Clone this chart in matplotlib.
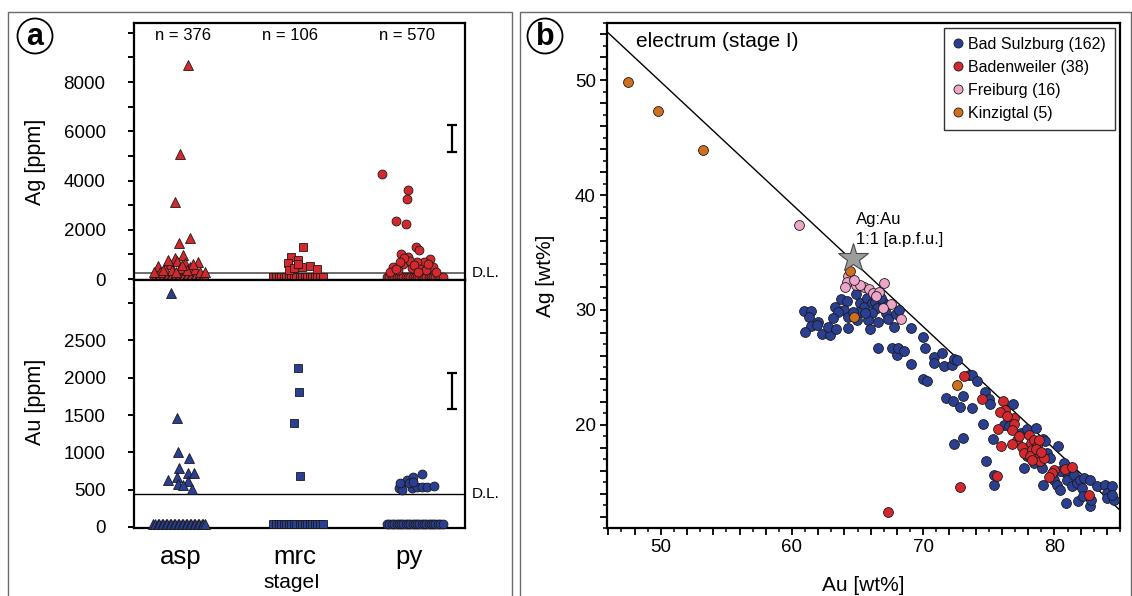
import matplotlib
matplotlib.use("Agg")
import matplotlib.pyplot as plt
from matplotlib.patches import Circle, Rectangle
from matplotlib.lines import Line2D
from matplotlib.ticker import MultipleLocator, FixedLocator, FuncFormatter

plt.rcParams['font.family'] = ['Liberation Sans', 'DejaVu Sans']

RED = '#d3282e'
BLUE = '#2b3f92'
PINK = '#eda5c8'
ORANGE = '#d0701c'
EDGE = '#1a1a1a'

# ---------------- panel a: trace elements in sulfides (stage I) ----------------
minerals = ['asp', 'mrc', 'py']
counts = [376, 106, 570]
ag_dl = 230          # detection limit Ag [ppm]
au_dl = 440          # detection limit Au [ppm]
ag_bdl_level = 80    # plotting level of analyses below detection limit
au_bdl_level = 40

# Ag [ppm] above detection limit: horizontal jitter offset and value
ag_asp_dx = [0.059, -0.009, -0.053, 0.079, -0.018, 0.020, -0.200, 0.152, -0.053,
             -0.096, -0.035, 0.035, 0.079, -0.140, -0.079, -0.009, 0.123, -0.184,
             0.167, 0.053, -0.114, 0.009, 0.105, -0.044, -0.237, 0.210, -0.158]
ag_asp_val = [8700, 5080, 3140, 1650, 1450, 980, 520, 680, 840,
              600, 720, 650, 480, 400, 350, 450, 420, 280,
              300, 380, 760, 560, 600, 300, 300, 280, 350]
ag_mrc_dx = [0.073, -0.038, 0.024, -0.059, 0.059, 0.132, 0.196, -0.050, -0.009, 0.026]
ag_mrc_val = [1310, 880, 760, 640, 500, 530, 395, 380, 450, 600]
ag_py_dx = [-0.234, -0.006, -0.015, -0.114, -0.024, 0.059, 0.088, -0.070, -0.006,
            -0.138, 0.184, 0.134, 0.213, 0.068, -0.053, 0.026, 0.096, -0.096,
            0.149, 0.237, -0.167, 0.009, -0.044, 0.044, -0.079, 0.167, 0.079, -0.114]
ag_py_val = [4270, 3620, 3240, 2370, 2220, 1290, 1180, 1015, 905,
             500, 800, 705, 500, 705, 600, 450, 400, 350,
             350, 300, 300, 750, 850, 550, 700, 600, 300, 420]

# Au [ppm] above detection limit
au_asp_dx = [-0.088, -0.038, -0.024, 0.073, -0.015, 0.059, 0.117, -0.111, -0.038,
             0.064, -0.024, 0.015, 0.099]
au_asp_val = [3140, 1456, 1008, 928, 794, 727, 719, 629, 665, 610, 578, 565, 509]
au_mrc_dx = [0.024, 0.035, -0.011, 0.044]
au_mrc_val = [2134, 1812, 1397, 683]
au_py_dx = [-0.064, -0.085, -0.020, 0.038, 0.111, -0.064, 0.024, 0.068, 0.111,
            0.155, 0.219, 0.003, 0.038, -0.079]
au_py_val = [576, 518, 629, 674, 710, 496, 518, 540, 532, 540, 553, 585, 607, 593]

# offsets of analyses below detection limit (drawn as a row)
bdl_asp_dx = [-0.245, -0.225, -0.205, -0.19, -0.17, -0.155, -0.135, -0.12, -0.10,
              -0.085, -0.065, -0.05, -0.03, -0.015, 0.005, 0.02, 0.04, 0.055,
              0.075, 0.09, 0.11, 0.125, 0.145, 0.16, 0.18, 0.195, 0.21]
bdl_mrc_dx = [-0.19, -0.17, -0.14, -0.12, -0.10, -0.075, -0.055, -0.035, -0.01,
              0.01, 0.04, 0.06, 0.085, 0.105, 0.13, 0.15, 0.175, 0.195, 0.22, 0.245]
bdl_py_dx = [-0.195, -0.175, -0.15, -0.13, -0.11, -0.09, -0.07, -0.05, -0.03, -0.01,
             0.01, 0.03, 0.05, 0.07, 0.09, 0.11, 0.13, 0.15, 0.17, 0.19, 0.21,
             0.23, 0.25, 0.27, 0.295]

# analytical uncertainty bars
ag_err_center, ag_err = 5710, 550
au_err_center, au_err = 1821, 245

# ---------------- panel b: electrum compositions ----------------
bs_au = [60.92, 61.45, 61.32, 62.01, 61.45, 61.02, 61.88, 62.27, 62.90, 62.77, 63.36,
         63.28, 63.74, 64.17, 63.99, 64.30, 64.25, 64.99, 64.89, 65.19, 65.45, 65.70,
         66.08, 66.29, 66.46, 66.08, 65.78, 65.95, 66.59, 67.18, 67.35, 67.74, 67.91,
         68.12, 65.06, 65.57, 66.59, 67.61, 67.99, 63.54, 63.16, 64.68, 66.97, 66.77,
         68.07, 68.55, 69.06, 70.15, 70.84, 70.84, 71.42, 71.55, 72.19, 72.31, 72.57,
         69.97, 70.28, 73.46, 73.71, 74.10, 74.73, 74.99, 75.11, 71.75, 72.26, 72.77,
         73.03, 73.71, 74.55, 76.13, 76.51, 76.82, 72.31, 73.03, 75.32, 74.81, 75.42,
         75.37, 77.66, 77.48, 77.91, 78.60, 79.13, 79.31, 80.28, 79.44, 79.69, 79.13,
         79.95, 80.20, 80.46, 80.71, 80.84, 80.97, 81.47, 81.35, 81.73, 81.98, 82.11,
         82.24, 82.75, 83.21, 80.92, 81.78, 82.19, 82.75, 82.82, 83.89, 84.02, 84.40,
         84.02, 84.53, 84.40, 77.91, 78.42, 79.06, 79.95, 80.46, 69.05, 69.95]
bs_ag = [29.94, 29.91, 29.36, 28.99, 28.64, 28.12, 28.72, 27.94, 27.80, 28.49, 28.32,
         30.23, 30.96, 30.81, 30.00, 29.42, 28.41, 29.13, 31.36, 30.64, 30.23, 31.01,
         30.64, 30.72, 30.15, 29.71, 29.13, 28.35, 28.99, 29.71, 29.19, 28.55, 29.65,
         30.00, 29.86, 29.71, 26.67, 26.67, 26.09, 29.86, 29.28, 29.86, 30.72, 31.01,
         26.67, 26.38, 25.27, 26.72, 25.88, 25.36, 26.23, 25.13, 25.22, 25.74, 25.65,
         24.00, 23.85, 24.35, 24.35, 23.85, 22.81, 22.23, 21.82, 22.32, 22.09, 21.51,
         22.46, 21.45, 20.06, 20.00, 19.85, 21.82, 18.32, 18.81, 18.75, 16.81, 15.65,
         14.78, 16.23, 19.27, 19.62, 19.71, 18.78, 18.55, 18.12, 17.54, 17.10, 14.78,
         15.22, 14.72, 14.35, 16.67, 15.85, 15.22, 15.65, 14.64, 14.93, 15.22, 14.49,
         15.36, 15.22, 14.64, 13.19, 13.33, 13.77, 12.90, 13.48, 14.78, 14.06, 14.64,
         13.62, 13.42, 13.91, 17.25, 16.67, 16.23, 15.94, 15.94, 28.46, 27.68]

bw_au = [73.08, 74.48, 76.08, 76.26, 75.88, 76.90, 76.90, 76.77, 75.67, 77.15, 76.77,
         75.93, 77.53, 77.66, 78.04, 78.24, 78.42, 78.68, 78.80, 78.29, 78.55, 78.17,
         78.93, 79.19, 78.29, 79.95, 79.82, 79.57, 80.84, 81.35, 82.62, 75.62, 72.82,
         67.30, 77.30, 78.60, 76.40, 79.00]
bw_ag = [24.26, 22.23, 22.09, 21.30, 21.07, 20.58, 20.09, 19.51, 19.65, 18.70, 18.35,
         18.17, 18.06, 17.54, 19.13, 18.41, 18.70, 18.12, 18.70, 17.83, 17.39, 17.25,
         16.81, 17.10, 16.96, 16.09, 15.80, 15.42, 16.14, 16.29, 13.85, 15.57, 14.55,
         12.40, 19.00, 17.90, 20.80, 17.60]

fr_au = [60.50, 64.30, 64.20, 64.05, 64.89, 65.50, 65.85, 66.21, 66.62, 67.03, 67.53,
         66.97, 68.32, 65.20, 66.40, 64.70]
fr_ag = [37.40, 32.96, 32.46, 31.97, 32.17, 31.97, 31.80, 31.45, 31.54, 32.32, 30.52,
         30.14, 29.19, 32.20, 31.20, 32.60]

kz_au = [47.47, 49.82, 53.25, 64.43, 64.73, 72.57]
kz_ag = [49.90, 47.33, 43.90, 33.42, 29.37, 23.48]

legend_labels = ['Bad Sulzburg (162)', 'Badenweiler (38)', 'Freiburg (16)', 'Kinzigtal (5)']

# Ag:Au = 1:1 (atomic) reference point and trend line
star_au, star_ag = 64.68, 34.5
line_au = [45.9, 85.0]
line_ag = [54.24, 12.55]

# ---------------------------------------------------------------------------
W, H = 1132, 596
fig = plt.figure(figsize=(W / 100, H / 100), dpi=100)


def fx(px):
    return px / W


def fy(py):
    return 1 - py / H


# panel frames
for x0, x1 in [(8, 512), (520, 1131)]:
    fig.add_artist(Rectangle((fx(x0), -0.02), fx(x1) - fx(x0), fy(12) + 0.02,
                             transform=fig.transFigure, fill=False,
                             edgecolor='#6a6a6a', lw=1.0))

# circled panel letters
for cx, cy, letter in [(35, 36, 'a'), (545, 36, 'b')]:
    fig.add_artist(Circle((cx / 100, (H - cy) / 100), 0.175,
                          transform=fig.dpi_scale_trans, fill=False,
                          edgecolor='black', lw=1.3))
    fig.text(fx(cx), fy(cy + 1), letter, ha='center', va='center',
             fontsize=22, fontweight='bold')

# ---- panel a axes
ax_ag = fig.add_axes([fx(134), fy(280), fx(465) - fx(134), fy(23) - fy(280)])
ax_au = fig.add_axes([fx(134), fy(528), fx(465) - fx(134), fy(280) - fy(528)])

markers = ['^', 's', 'o']
msizes = [7.0, 5.6, 6.4]
ag_dx = [ag_asp_dx, ag_mrc_dx, ag_py_dx]
ag_val = [ag_asp_val, ag_mrc_val, ag_py_val]
au_dx = [au_asp_dx, au_mrc_dx, au_py_dx]
au_val = [au_asp_val, au_mrc_val, au_py_val]
bdl_dx = [bdl_asp_dx, bdl_mrc_dx, bdl_py_dx]

for i in range(3):
    pos = i + 1
    # below detection limit rows
    ax_ag.plot([pos + d for d in bdl_dx[i]], [ag_bdl_level] * len(bdl_dx[i]),
               ls='none', marker=markers[i], ms=msizes[i], mfc=RED, mec=EDGE,
               mew=0.6, clip_on=False, zorder=3)
    ax_au.plot([pos + d for d in bdl_dx[i]], [au_bdl_level] * len(bdl_dx[i]),
               ls='none', marker=markers[i], ms=msizes[i], mfc=BLUE, mec=EDGE,
               mew=0.6, clip_on=False, zorder=3)
    ax_ag.plot([pos + d for d in ag_dx[i]], ag_val[i], ls='none', marker=markers[i],
               ms=msizes[i], mfc=RED, mec=EDGE, mew=0.6, zorder=4)
    ax_au.plot([pos + d for d in au_dx[i]], au_val[i], ls='none', marker=markers[i],
               ms=msizes[i], mfc=BLUE, mec=EDGE, mew=0.6, zorder=4)
    ax_ag.text(pos + [0.02, -0.04, -0.02][i], 0.953, f'n = {counts[i]}',
               transform=ax_ag.get_xaxis_transform(), ha='center', va='center',
               fontsize=12)

xlim_a = (0.588, 3.49)
ax_ag.set_xlim(*xlim_a)
ax_au.set_xlim(*xlim_a)
ax_ag.set_ylim(-40, 10400)
ax_au.set_ylim(-15, 3310)

ax_ag.axhline(ag_dl, color='#555555', lw=1.2, zorder=2)
ax_au.axhline(au_dl, color='black', lw=1.0, zorder=2)
ax_ag.text(1.02, ag_dl, 'D.L.', transform=ax_ag.get_yaxis_transform(),
           ha='left', va='center', fontsize=11)
ax_au.text(1.02, au_dl, 'D.L.', transform=ax_au.get_yaxis_transform(),
           ha='left', va='center', fontsize=11)

ax_ag.errorbar([3.377], [ag_err_center], yerr=[ag_err], color='black', lw=1.6,
               capsize=3.3, capthick=1.6)
ax_au.errorbar([3.377], [au_err_center], yerr=[au_err], color='black', lw=1.6,
               capsize=3.3, capthick=1.6)

ag_ticks = list(range(0, 10001, 1000))
ax_ag.yaxis.set_major_locator(FixedLocator(ag_ticks))
ax_ag.yaxis.set_major_formatter(FuncFormatter(
    lambda v, p: f'{int(v)}' if v in (0, 2000, 4000, 6000, 8000) else ''))
au_ticks = list(range(0, 3001, 500))
ax_au.yaxis.set_major_locator(FixedLocator(au_ticks))
ax_au.yaxis.set_major_formatter(FuncFormatter(
    lambda v, p: f'{int(v)}' if v <= 2500 else ''))

for ax in (ax_ag, ax_au):
    for s in ax.spines.values():
        s.set_linewidth(1.6)
    ax.tick_params(axis='y', direction='out', length=4.5, width=1.4, pad=16,
                   labelsize=13.5)

ax_ag.tick_params(axis='x', bottom=False, labelbottom=False)
ax_au.set_xticks([1, 2, 3])
ax_au.set_xticklabels(minerals)
ax_au.tick_params(axis='x', length=0, pad=12, labelsize=18.5)

fig.text(fx(36), fy(162), 'Ag [ppm]', rotation=90, ha='center', va='center',
         fontsize=15.5)
fig.text(fx(36), fy(402), 'Au [ppm]', rotation=90, ha='center', va='center',
         fontsize=15.5)
fig.text(fx(292), fy(583), 'stageI', ha='center', va='center', fontsize=15)

# ---- panel b axes
axb = fig.add_axes([fx(607), fy(528), fx(1120) - fx(607), fy(23) - fy(528)])
axb.plot(line_au, line_ag, color='black', lw=1.0, zorder=2)
sc_kw = dict(s=50, edgecolors=EDGE, linewidths=0.6, zorder=3)
axb.scatter(bs_au, bs_ag, c=BLUE, **sc_kw)
axb.scatter(bw_au, bw_ag, c=RED, **sc_kw)
axb.scatter(fr_au, fr_ag, c=PINK, **sc_kw)
axb.scatter(kz_au, kz_ag, c=ORANGE, **sc_kw)
axb.plot([star_au], [star_ag], marker='*', ms=22, mfc='#9c9c9c', mec='#4a4a4a',
         mew=0.8, zorder=5)
axb.text(64.9, 37.0, 'Ag:Au\n1:1 [a.p.f.u.]', ha='left', va='center',
         fontsize=12, linespacing=1.45)
axb.text(48.1, 53.35, 'electrum (stage I)', ha='left', va='center', fontsize=15)

axb.set_xlim(45.9, 85.0)
axb.set_ylim(11.0, 55.0)
axb.xaxis.set_major_locator(MultipleLocator(2))
axb.xaxis.set_minor_locator(MultipleLocator(1))
axb.yaxis.set_major_locator(MultipleLocator(2))
axb.yaxis.set_minor_locator(MultipleLocator(1))
axb.xaxis.set_major_formatter(FuncFormatter(
    lambda v, p: f'{int(round(v))}' if round(v) % 10 == 0 else ''))
axb.yaxis.set_major_formatter(FuncFormatter(
    lambda v, p: f'{int(round(v))}' if round(v) % 10 == 0 else ''))
for s in axb.spines.values():
    s.set_linewidth(1.6)
axb.tick_params(which='major', direction='out', length=5, width=1.3,
                labelsize=13.5, pad=3)
axb.tick_params(which='minor', direction='out', length=3, width=1.1)
axb.set_xlabel('Au [wt%]', fontsize=15, labelpad=14)
axb.set_ylabel('Ag [wt%]', fontsize=15, labelpad=14)

handles = [Line2D([], [], ls='none', marker='o', ms=6.5, mfc=c, mec=EDGE, mew=0.6)
           for c in (BLUE, RED, PINK, ORANGE)]
leg = axb.legend(handles, legend_labels, loc='upper right',
                 bbox_to_anchor=(0.99, 0.99), borderaxespad=0, fontsize=11.5,
                 frameon=True, fancybox=False, edgecolor='black',
                 handlelength=0.6, handletextpad=0.35, borderpad=0.55,
                 labelspacing=0.5)
leg.get_frame().set_linewidth(1.0)

fig.savefig('out.png', dpi=100)
